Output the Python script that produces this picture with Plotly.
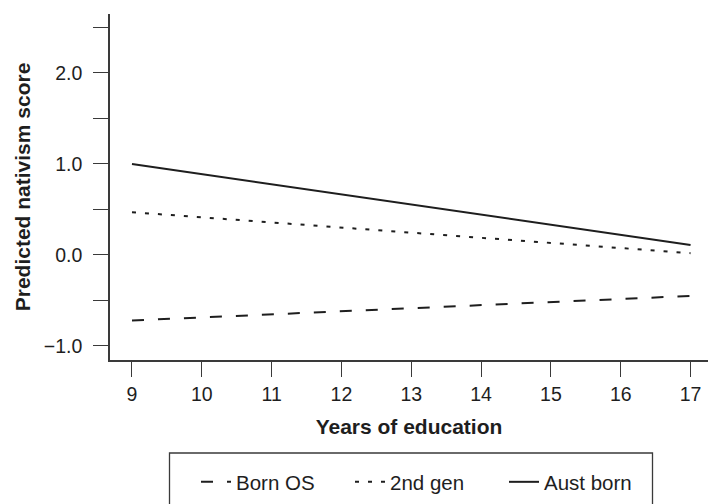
import plotly.graph_objects as go

years = [9, 17]
born_os = [-0.72, -0.45]
second_gen = [0.47, 0.02]
aust_born = [1.0, 0.11]

series_names = ["Born OS", "2nd gen", "Aust born"]
y_tickvals = [-1.0, -0.5, 0.0, 0.5, 1.0, 1.5, 2.0, 2.5]
y_ticktext = ["\u22121.0", "", "0.0", "", "1.0", "", "2.0", ""]
x_tickvals = [9, 10, 11, 12, 13, 14, 15, 16, 17]

W, H = 708, 504
L, R, T, B = 110, 0, 14, 144
pw, ph = W - L - R, H - T - B

def px_x(p):
    return (p - L) / pw

def px_y(p):
    return (H - B - p) / ph

ink = "#1e1e1e"
axis_col = "#3a3a3a"
FONT = "Liberation Sans, Arial, Helvetica, sans-serif"

fig = go.Figure()
fig.add_trace(go.Scatter(x=years, y=born_os, mode="lines", name=series_names[0],
                         line=dict(color=ink, width=2, dash="12px,14px")))
fig.add_trace(go.Scatter(x=years, y=second_gen, mode="lines", name=series_names[1],
                         line=dict(color=ink, width=2, dash="4px,9px")))
fig.add_trace(go.Scatter(x=years, y=aust_born, mode="lines", name=series_names[2],
                         line=dict(color=ink, width=2)))

fig.update_layout(
    width=W, height=H,
    margin=dict(l=L, r=R, t=T, b=B, autoexpand=False),
    plot_bgcolor="white", paper_bgcolor="white",
    font=dict(family=FONT, color=ink, size=19.5),
    showlegend=True,
    legend=dict(orientation="h", x=px_x(196), xanchor="left",
                y=px_y(482), yanchor="middle",
                font=dict(size=20.5, family=FONT, color=ink),
                entrywidth=109, entrywidthmode="pixels",
                bgcolor="rgba(0,0,0,0)", borderwidth=0,
                traceorder="normal"),
    shapes=[dict(type="rect", xref="paper", yref="paper",
                 x0=px_x(169.5), x1=px_x(652.5), y0=px_y(453), y1=px_y(530),
                 line=dict(color=axis_col, width=1.3), fillcolor="rgba(0,0,0,0)")],
)

fig.update_xaxes(
    range=[8.685, 17.25], tickvals=x_tickvals,
    showline=True, linecolor=axis_col, linewidth=1.5,
    ticks="outside", ticklen=15, tickwidth=1.3, tickcolor=axis_col,
    ticklabelstandoff=1,
    showgrid=False, zeroline=False,
    tickfont=dict(size=19.5, family=FONT, color=ink),
    title=dict(text="<b>Years of education</b>", standoff=15,
               font=dict(size=21, family=FONT, color=ink)),
    automargin=False,
)
fig.update_yaxes(
    range=[-1.154, 2.648], tickvals=y_tickvals, ticktext=y_ticktext,
    showline=True, linecolor=axis_col, linewidth=1.5,
    ticks="outside", ticklen=15, tickwidth=1.3, tickcolor=axis_col,
    ticklabelstandoff=7,
    showgrid=False, zeroline=False,
    tickfont=dict(size=19.5, family=FONT, color=ink),
    title=dict(text="<b>Predicted nativism score</b>", standoff=7,
               font=dict(size=21, family=FONT, color=ink)),
    automargin=False,
)

fig.write_html("out.html",
               config={"displayModeBar": False},
               post_script="document.body.style.margin='0';document.body.style.overflow='hidden';")
